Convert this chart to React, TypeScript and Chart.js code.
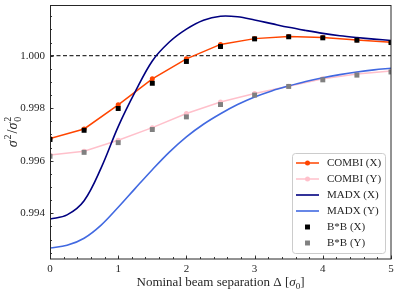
import { useEffect, useRef } from 'react';
import { Chart, registerables } from 'chart.js';

Chart.register(...registerables);

// Nominal beam separation (in sigma_0) for COMBI and B*B points
const separations = [0, 0.5, 1, 1.5, 2, 2.5, 3, 3.5, 4, 4.5, 5];
const combiX = [0.99685, 0.99721, 0.99813, 0.99912, 0.99988, 1.00043, 1.00065, 1.00073, 1.00069, 1.0006, 1.00051];
const combiY = [0.99622, 0.99636, 0.99678, 0.99726, 0.9978, 0.99824, 0.99856, 0.99884, 0.99912, 0.9993, 0.99942];
const bbX = [0.99681, 0.99716, 0.99799, 0.99895, 0.99978, 1.00035, 1.00064, 1.00072, 1.00068, 1.00059, 1.0005];
const bbY = [0.99617, 0.99632, 0.99669, 0.99719, 0.99767, 0.99814, 0.9985, 0.99883, 0.99908, 0.99926, 0.99938];

// MADX curves
const madxSep = [0, 0.25, 0.5, 0.75, 1, 1.25, 1.5, 1.75, 2, 2.25, 2.5, 2.75, 3, 3.25, 3.5, 3.75, 4, 4.25, 4.5, 4.75, 5];
const madxX = [0.99378, 0.99394, 0.99448, 0.99573, 0.9973, 0.99863, 0.9998, 1.00052, 1.00101, 1.00135, 1.0015, 1.00148, 1.00136, 1.00122, 1.00108, 1.00096, 1.00085, 1.00076, 1.00069, 1.00063, 1.00058];
const madxY = [0.99268, 0.99278, 0.99305, 0.99355, 0.99423, 0.99495, 0.99566, 0.99633, 0.99691, 0.99739, 0.99779, 0.99814, 0.99843, 0.99866, 0.99885, 0.99902, 0.99916, 0.99928, 0.99938, 0.99946, 0.99952];

// Reference line at unity
const refSep = [0, 5];
const refLevel = [1, 1];

const xTicks = [0, 1, 2, 3, 4, 5];
const yTicks = [0.994, 0.996, 0.998, 1.0];
const xMinorStep = 0.2;
const yMinorStep = 0.0005;

const SERIF = '"Liberation Serif", "DejaVu Serif", serif';
const INK = '#262626';

const pts = (xs: number[], ys: number[]) => xs.map((x, i) => ({ x, y: ys[i] }));

const deco = {
  id: 'deco',
  afterDraw(chart: any) {
    const { ctx, chartArea: a, scales } = chart;
    const xs = scales.x;
    const ys = scales.y;
    ctx.save();
    ctx.strokeStyle = INK;
    ctx.lineWidth = 0.9;
    // ticks (inward)
    ctx.beginPath();
    const xmin = xs.min, xmax = xs.max, ymin = ys.min, ymax = ys.max;
    for (let k = 0; xmin + k * xMinorStep <= xmax + 1e-9; k++) {
      const v = xmin + k * xMinorStep;
      const px = Math.round(xs.getPixelForValue(v)) + 0.5;
      ctx.moveTo(px, a.bottom);
      ctx.lineTo(px, a.bottom - 2);
    }
    for (const v of xTicks) {
      const px = Math.round(xs.getPixelForValue(v)) + 0.5;
      ctx.moveTo(px, a.bottom);
      ctx.lineTo(px, a.bottom - 3.5);
    }
    const y0 = Math.ceil(ymin / yMinorStep) * yMinorStep;
    for (let k = 0; y0 + k * yMinorStep <= ymax + 1e-9; k++) {
      const v = y0 + k * yMinorStep;
      const py = Math.round(ys.getPixelForValue(v)) + 0.5;
      ctx.moveTo(a.left, py);
      ctx.lineTo(a.left + 2, py);
    }
    for (const v of yTicks) {
      const py = Math.round(ys.getPixelForValue(v)) + 0.5;
      ctx.moveTo(a.left, py);
      ctx.lineTo(a.left + 3.5, py);
    }
    ctx.stroke();
    // frame
    ctx.lineWidth = 1;
    ctx.strokeRect(a.left + 0.5, a.top + 0.5, a.right - a.left - 0.5, a.bottom - a.top - 0.5);

    // legend
    const entries = chart.data.datasets.filter((d: any) => d.label);
    const boxR = a.right - 6;
    const boxB = a.bottom - 6;
    const rowH = 16;
    const boxW = 93;
    const boxH = rowH * entries.length + 4;
    const bx = boxR - boxW;
    const by = boxB - boxH;
    ctx.beginPath();
    if (ctx.roundRect) ctx.roundRect(bx + 0.5, by + 0.5, boxW, boxH, 3);
    else ctx.rect(bx + 0.5, by + 0.5, boxW, boxH);
    ctx.fillStyle = 'rgba(255,255,255,0.8)';
    ctx.fill();
    ctx.strokeStyle = '#cccccc';
    ctx.lineWidth = 1;
    ctx.stroke();
    ctx.font = `11px ${SERIF}`;
    ctx.textBaseline = 'middle';
    ctx.textAlign = 'left';
    entries.forEach((d: any, i: number) => {
      const cy = by + 10 + i * rowH;
      const lx0 = bx + 4, lx1 = bx + 27, mx = (lx0 + lx1) / 2;
      if (d.showLine !== false) {
        ctx.strokeStyle = d.borderColor;
        ctx.lineWidth = d.borderWidth;
        ctx.beginPath();
        ctx.moveTo(lx0, cy);
        ctx.lineTo(lx1, cy);
        ctx.stroke();
      }
      if (d.pointRadius > 0) {
        ctx.fillStyle = d.pointBackgroundColor;
        if (d.pointStyle === 'rect') {
          const s = d.pointRadius * Math.SQRT1_2;
          ctx.fillRect(mx - s, cy - s, 2 * s, 2 * s);
        } else {
          ctx.beginPath();
          ctx.arc(mx, cy, d.pointRadius, 0, Math.PI * 2);
          ctx.fill();
        }
      }
      ctx.fillStyle = INK;
      ctx.fillText(d.label, bx + 35, cy + 0.5);
    });

    // x title
    ctx.fillStyle = INK;
    ctx.textAlign = 'left';
    ctx.textBaseline = 'alphabetic';
    const cxT = (a.left + a.right) / 2;
    const base = 286;
    const fMain = `13px ${SERIF}`;
    const fIt = `italic 13px ${SERIF}`;
    const fSub = `9px ${SERIF}`;
    const parts: [string, string, number][] = [
      ['Nominal beam separation \u0394 [', fMain, 0],
      ['\u03c3', fIt, 0],
      ['0', fSub, 2.5],
      [']', fMain, 0],
    ];
    const widths = parts.map(([t, f]) => { ctx.font = f; return ctx.measureText(t).width; });
    const total = widths.reduce((s, w) => s + w, 0);
    let x = cxT - total / 2;
    parts.forEach(([t, f, dy], i) => {
      ctx.font = f;
      ctx.fillText(t, x, base + dy);
      x += widths[i];
    });

    // y title (rotated)
    ctx.save();
    ctx.translate(17, (a.top + a.bottom) / 2);
    ctx.rotate(-Math.PI / 2);
    const fYIt = `italic 14px ${SERIF}`;
    const fYMain = `14px ${SERIF}`;
    const fYSub = `10px ${SERIF}`;
    const yp: [string, string, number, boolean, number][] = [
      ['\u03c3', fYIt, 0, true, 0],
      ['2', fYSub, -6, true, 1],
      ['/', fYMain, 0, true, 1],
      ['\u03c3', fYIt, 0, true, 0],
      ['2', fYSub, -6, false, 1],
      ['0', fYSub, 3.5, true, 1],
    ];
    const yw = yp.map(([t, f]) => { ctx.font = f; return ctx.measureText(t).width; });
    let tot = 0;
    yp.forEach((p, i) => { if (p[3]) tot += yw[i] + p[4]; });
    let yx = -tot / 2;
    yp.forEach(([t, f, dy, adv, gap], i) => {
      ctx.font = f;
      ctx.fillText(t, yx + gap, dy);
      if (adv) yx += yw[i] + gap;
    });
    ctx.restore();
    ctx.restore();
  },
};

export default function App() {
  const ref = useRef<HTMLCanvasElement>(null);
  useEffect(() => {
    document.body.style.margin = '0';
    const chart = new Chart(ref.current as HTMLCanvasElement, {
      type: 'line',
      data: {
        datasets: [
          {
            label: 'COMBI (X)', data: pts(separations, combiX), borderColor: '#FF4500', backgroundColor: '#FF4500',
            borderWidth: 1.5, pointRadius: 2.5, pointBackgroundColor: '#FF4500', pointBorderWidth: 0, tension: 0, order: 9,
          },
          {
            label: 'COMBI (Y)', data: pts(separations, combiY), borderColor: '#FFC0CB', backgroundColor: '#FFC0CB',
            borderWidth: 1.5, pointRadius: 2.5, pointBackgroundColor: '#FFC0CB', pointBorderWidth: 0, tension: 0, order: 8,
          },
          {
            label: 'MADX (X)', data: pts(madxSep, madxX), borderColor: '#000080', backgroundColor: '#000080',
            borderWidth: 1.6, pointRadius: 0, tension: 0.35, order: 7,
          },
          {
            label: 'MADX (Y)', data: pts(madxSep, madxY), borderColor: '#4169E1', backgroundColor: '#4169E1',
            borderWidth: 1.6, pointRadius: 0, tension: 0.35, order: 6,
          },
          {
            label: 'B*B (X)', data: pts(separations, bbX), showLine: false, pointStyle: 'rect', pointRadius: 3.5,
            pointBackgroundColor: '#000000', pointBorderWidth: 0, borderColor: '#000000', order: 5,
          },
          {
            label: 'B*B (Y)', data: pts(separations, bbY), showLine: false, pointStyle: 'rect', pointRadius: 3.5,
            pointBackgroundColor: '#808080', pointBorderWidth: 0, borderColor: '#808080', order: 4,
          },
          {
            label: '', data: pts(refSep, refLevel), borderColor: '#333333', borderWidth: 1.3, borderDash: [4, 2.5],
            pointRadius: 0, order: 10,
          },
        ] as any,
      },
      options: {
        animation: false,
        responsive: false,
        layout: { padding: { top: 5, right: 8, left: 0, bottom: 0 } },
        plugins: { legend: { display: false }, tooltip: { enabled: false } },
        scales: {
          x: {
            type: 'linear', min: 0, max: 5,
            afterBuildTicks: (s: any) => { s.ticks = xTicks.map((v) => ({ value: v })); },
            afterFit: (s: any) => { s.height = 36; s.paddingLeft = 0; s.paddingRight = 0; },
            grid: { display: false, drawTicks: false },
            border: { display: false },
            ticks: { font: { family: SERIF, size: 11 }, color: INK, padding: 4, maxRotation: 0, callback: (v: any) => String(v) },
          },
          y: {
            type: 'linear', min: 0.99226, max: 1.00193,
            afterBuildTicks: (s: any) => { s.ticks = yTicks.map((v) => ({ value: v })); },
            afterFit: (s: any) => { s.width = 50; s.paddingTop = 0; s.paddingBottom = 0; },
            grid: { display: false, drawTicks: false },
            border: { display: false },
            ticks: { font: { family: SERIF, size: 11 }, color: INK, padding: 5, callback: (v: any) => Number(v).toFixed(3) },
          },
        },
      } as any,
      plugins: [deco],
    });
    return () => chart.destroy();
  }, []);
  return <canvas ref={ref} width={399} height={295} style={{ display: 'block' }} />;
}
